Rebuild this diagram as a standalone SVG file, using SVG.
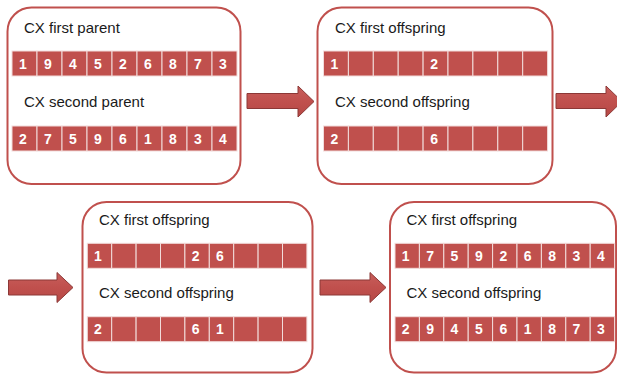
<svg xmlns="http://www.w3.org/2000/svg" width="617" height="374" viewBox="0 0 617 374">
  <style>
    .box { fill: #ffffff; stroke: #C0504D; stroke-width: 2; }
    .cell { fill: #C0504D; stroke: #F2DCDB; stroke-width: 1; }
    .lbl { font-family: "Liberation Sans", Arial, sans-serif; font-size: 15px; fill: #1a1a1a; }
    .dig { font-family: "Liberation Sans", Arial, sans-serif; font-size: 14px; font-weight: bold; fill: #ffffff; text-anchor: middle; }
    .arrow { fill: url(#arrowFill); stroke: #8C3836; stroke-width: 1; }
  </style>
  <defs>
    <linearGradient id="arrowFill" x1="0" y1="0" x2="0" y2="1">
      <stop offset="0" stop-color="#C85E5B"/>
      <stop offset="0.5" stop-color="#C0504D"/>
      <stop offset="1" stop-color="#B64845"/>
    </linearGradient>
  </defs>

  <rect width="617" height="374" fill="#ffffff"/>

  <!-- connectors: block arrows between stages -->
  <g id="connectors">
    <path class="arrow" d="M247,93.5 H298 V86 L314,101.5 L298,117 V108.5 H247 Z"/>
    <path class="arrow" d="M556,93.5 H606 V86 L622,101.5 L606,117 V108.5 H556 Z"/>
    <path class="arrow" d="M8.5,280 H57 V272.5 L73,287.5 L57,302.5 V295 H8.5 Z"/>
    <path class="arrow" d="M320,280 H370 V272.5 L386,287.5 L370,302.5 V295 H320 Z"/>
  </g>

  <!-- stage 1: parents -->
  <g id="parents">
    <rect class="box" x="7.5" y="7.5" width="233" height="176.5" rx="24"/>
    <text class="lbl" x="24" y="32.5">CX first parent</text>
    <text class="lbl" x="24" y="107">CX second parent</text>
    <g>
      <rect class="cell" x="12" y="51" width="25" height="25"/>
      <rect class="cell" x="37" y="51" width="25" height="25"/>
      <rect class="cell" x="62" y="51" width="25" height="25"/>
      <rect class="cell" x="87" y="51" width="25" height="25"/>
      <rect class="cell" x="112" y="51" width="25" height="25"/>
      <rect class="cell" x="137" y="51" width="25" height="25"/>
      <rect class="cell" x="162" y="51" width="25" height="25"/>
      <rect class="cell" x="187" y="51" width="25" height="25"/>
      <rect class="cell" x="212" y="51" width="25" height="25"/>
      <text class="dig" y="68.5"><tspan x="23">1</tspan><tspan x="48">9</tspan><tspan x="73">4</tspan><tspan x="98">5</tspan><tspan x="123">2</tspan><tspan x="148">6</tspan><tspan x="173">8</tspan><tspan x="198">7</tspan><tspan x="223">3</tspan></text>
    </g>
    <g>
      <rect class="cell" x="12" y="126" width="25" height="25"/>
      <rect class="cell" x="37" y="126" width="25" height="25"/>
      <rect class="cell" x="62" y="126" width="25" height="25"/>
      <rect class="cell" x="87" y="126" width="25" height="25"/>
      <rect class="cell" x="112" y="126" width="25" height="25"/>
      <rect class="cell" x="137" y="126" width="25" height="25"/>
      <rect class="cell" x="162" y="126" width="25" height="25"/>
      <rect class="cell" x="187" y="126" width="25" height="25"/>
      <rect class="cell" x="212" y="126" width="25" height="25"/>
      <text class="dig" y="143.5"><tspan x="23">2</tspan><tspan x="48">7</tspan><tspan x="73">5</tspan><tspan x="98">9</tspan><tspan x="123">6</tspan><tspan x="148">1</tspan><tspan x="173">8</tspan><tspan x="198">3</tspan><tspan x="223">4</tspan></text>
    </g>
  </g>

  <!-- stage 2: first cycle copied -->
  <g id="offspring-step1">
    <rect class="box" x="317.5" y="7.5" width="235" height="176.5" rx="24"/>
    <text class="lbl" x="335" y="32.5">CX first offspring</text>
    <text class="lbl" x="335" y="107">CX second offspring</text>
    <g>
      <rect class="cell" x="323.5" y="51" width="24.9" height="25"/>
      <rect class="cell" x="348.4" y="51" width="24.9" height="25"/>
      <rect class="cell" x="373.3" y="51" width="24.9" height="25"/>
      <rect class="cell" x="398.2" y="51" width="24.9" height="25"/>
      <rect class="cell" x="423.1" y="51" width="24.9" height="25"/>
      <rect class="cell" x="448" y="51" width="24.9" height="25"/>
      <rect class="cell" x="472.9" y="51" width="24.9" height="25"/>
      <rect class="cell" x="497.8" y="51" width="24.9" height="25"/>
      <rect class="cell" x="522.7" y="51" width="24.9" height="25"/>
      <text class="dig" y="68.5"><tspan x="334.5">1</tspan><tspan x="434.1">2</tspan></text>
    </g>
    <g>
      <rect class="cell" x="323.5" y="126" width="24.9" height="25"/>
      <rect class="cell" x="348.4" y="126" width="24.9" height="25"/>
      <rect class="cell" x="373.3" y="126" width="24.9" height="25"/>
      <rect class="cell" x="398.2" y="126" width="24.9" height="25"/>
      <rect class="cell" x="423.1" y="126" width="24.9" height="25"/>
      <rect class="cell" x="448" y="126" width="24.9" height="25"/>
      <rect class="cell" x="472.9" y="126" width="24.9" height="25"/>
      <rect class="cell" x="497.8" y="126" width="24.9" height="25"/>
      <rect class="cell" x="522.7" y="126" width="24.9" height="25"/>
      <text class="dig" y="143.5"><tspan x="334.5">2</tspan><tspan x="434.1">6</tspan></text>
    </g>
  </g>

  <!-- stage 3: cycle extended -->
  <g id="offspring-step2">
    <rect class="box" x="82.5" y="202" width="230" height="170.5" rx="24"/>
    <text class="lbl" x="99" y="224.5">CX first offspring</text>
    <text class="lbl" x="99" y="298">CX second offspring</text>
    <g>
      <rect class="cell" x="87.3" y="243.3" width="24.4" height="25"/>
      <rect class="cell" x="111.7" y="243.3" width="24.4" height="25"/>
      <rect class="cell" x="136.1" y="243.3" width="24.4" height="25"/>
      <rect class="cell" x="160.5" y="243.3" width="24.4" height="25"/>
      <rect class="cell" x="184.9" y="243.3" width="24.4" height="25"/>
      <rect class="cell" x="209.3" y="243.3" width="24.4" height="25"/>
      <rect class="cell" x="233.7" y="243.3" width="24.4" height="25"/>
      <rect class="cell" x="258.1" y="243.3" width="24.4" height="25"/>
      <rect class="cell" x="282.5" y="243.3" width="24.4" height="25"/>
      <text class="dig" y="260.8"><tspan x="98">1</tspan><tspan x="195.6">2</tspan><tspan x="220">6</tspan></text>
    </g>
    <g>
      <rect class="cell" x="87.3" y="316.7" width="24.4" height="25"/>
      <rect class="cell" x="111.7" y="316.7" width="24.4" height="25"/>
      <rect class="cell" x="136.1" y="316.7" width="24.4" height="25"/>
      <rect class="cell" x="160.5" y="316.7" width="24.4" height="25"/>
      <rect class="cell" x="184.9" y="316.7" width="24.4" height="25"/>
      <rect class="cell" x="209.3" y="316.7" width="24.4" height="25"/>
      <rect class="cell" x="233.7" y="316.7" width="24.4" height="25"/>
      <rect class="cell" x="258.1" y="316.7" width="24.4" height="25"/>
      <rect class="cell" x="282.5" y="316.7" width="24.4" height="25"/>
      <text class="dig" y="334.2"><tspan x="98">2</tspan><tspan x="195.6">6</tspan><tspan x="220">1</tspan></text>
    </g>
  </g>

  <!-- stage 4: completed offspring -->
  <g id="offspring-final">
    <rect class="box" x="390" y="202" width="226" height="170.5" rx="24"/>
    <text class="lbl" x="406.5" y="224.5">CX first offspring</text>
    <text class="lbl" x="406.5" y="298">CX second offspring</text>
    <g>
      <rect class="cell" x="395" y="243.3" width="24.4" height="25"/>
      <rect class="cell" x="419.4" y="243.3" width="24.4" height="25"/>
      <rect class="cell" x="443.8" y="243.3" width="24.4" height="25"/>
      <rect class="cell" x="468.2" y="243.3" width="24.4" height="25"/>
      <rect class="cell" x="492.6" y="243.3" width="24.4" height="25"/>
      <rect class="cell" x="517" y="243.3" width="24.4" height="25"/>
      <rect class="cell" x="541.4" y="243.3" width="24.4" height="25"/>
      <rect class="cell" x="565.8" y="243.3" width="24.4" height="25"/>
      <rect class="cell" x="590.2" y="243.3" width="24.4" height="25"/>
      <text class="dig" y="260.8"><tspan x="405.7">1</tspan><tspan x="430.1">7</tspan><tspan x="454.5">5</tspan><tspan x="478.9">9</tspan><tspan x="503.3">2</tspan><tspan x="527.7">6</tspan><tspan x="552.1">8</tspan><tspan x="576.5">3</tspan><tspan x="600.9">4</tspan></text>
    </g>
    <g>
      <rect class="cell" x="395" y="316.7" width="24.4" height="25"/>
      <rect class="cell" x="419.4" y="316.7" width="24.4" height="25"/>
      <rect class="cell" x="443.8" y="316.7" width="24.4" height="25"/>
      <rect class="cell" x="468.2" y="316.7" width="24.4" height="25"/>
      <rect class="cell" x="492.6" y="316.7" width="24.4" height="25"/>
      <rect class="cell" x="517" y="316.7" width="24.4" height="25"/>
      <rect class="cell" x="541.4" y="316.7" width="24.4" height="25"/>
      <rect class="cell" x="565.8" y="316.7" width="24.4" height="25"/>
      <rect class="cell" x="590.2" y="316.7" width="24.4" height="25"/>
      <text class="dig" y="334.2"><tspan x="405.7">2</tspan><tspan x="430.1">9</tspan><tspan x="454.5">4</tspan><tspan x="478.9">5</tspan><tspan x="503.3">6</tspan><tspan x="527.7">1</tspan><tspan x="552.1">8</tspan><tspan x="576.5">7</tspan><tspan x="600.9">3</tspan></text>
    </g>
  </g>
</svg>
